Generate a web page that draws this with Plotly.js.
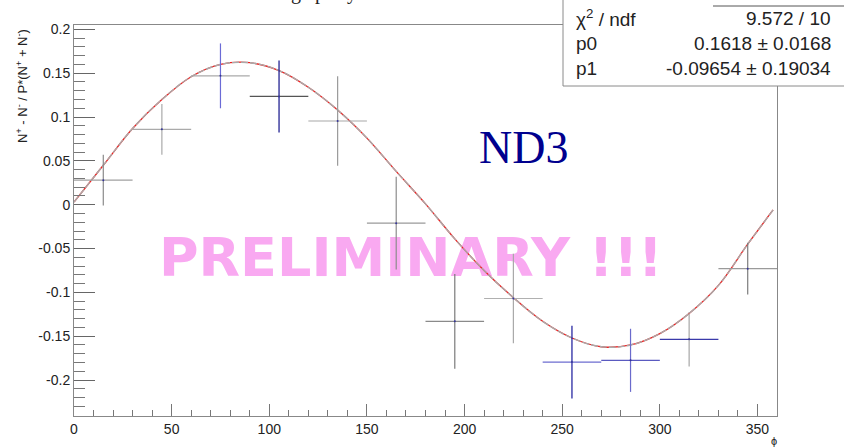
<!DOCTYPE html>
<html>
<head>
<meta charset="utf-8">
<script src="https://cdn.plot.ly/plotly-3.0.1.min.js"></script>
<style>html,body{margin:0;padding:0;background:#fff;}#chart{width:844px;height:447px;}</style>
</head>
<body>
<div id="chart"></div>
<script>
// ---- data ----
const phi      = [15, 45, 75, 105, 135, 165, 195, 225, 255, 285, 315, 345];
const asym     = [0.028, 0.086, 0.147, 0.1235, 0.0955, -0.021, -0.133, -0.107, -0.1795, -0.1775, -0.1535, -0.073];
const asymErr  = [0.029, 0.029, 0.037, 0.041, 0.051, 0.053, 0.054, 0.051, 0.0415, 0.036, 0.031, 0.0295];
const binHalf  = [15, 15, 15, 15, 15, 15, 15, 15, 15, 15, 15, 15];

// fitted curve as drawn in the picture (sampled)
const fitPhi = [0, 15, 30, 45, 60, 75, 90, 105, 120, 135, 150, 165, 180, 195, 210, 225, 240, 255, 270, 285, 300, 315, 330, 345, 358];
const fitVal = [0.003, 0.045, 0.087, 0.120, 0.146, 0.160, 0.162, 0.153, 0.134, 0.108, 0.076, 0.038, 0.001, -0.039, -0.075, -0.106, -0.133, -0.152, -0.162, -0.160, -0.147, -0.124, -0.092, -0.045, -0.006];

const yTickVals = [-0.2, -0.15, -0.1, -0.05, 0, 0.05, 0.1, 0.15, 0.2];
const yTickText = ["-0.2", "-0.15", "-0.1", "-0.05", "0", "0.05", "0.1", "0.15", "0.2"];

const statLabels = ["χ<sup>2</sup> / ndf", "p0", "p1"];
const statValues = ["9.572 / 10", "0.1618 ± 0.0168", "-0.09654 ± 0.19034"];

// ---- styles (per point colours of the error bars) ----
const vColors = ['#8a8a8a', '#aaaaaa', '#6b6bd6', '#10108a', '#9a9a9a', '#8c8c8c', '#7a7a7a', '#a8a8a8', '#16169a', '#6a6acc', '#a6a6a6', '#7c7c7c'];
const hColors = ['#a0a0a0', '#aaaaaa', '#aaaaaa', '#555555', '#a8a8a8', '#9a9a9a', '#8a8a8a', '#b0b0b0', '#6c6cd0', '#5a5ac0', '#3a3aaa', '#9a9a9a'];

const W = 844, H = 447, L = 74, R = 67, T = 25, B = 31;
const pw = W - L - R, ph = H - T - B;
const px = x => (x - L) / pw;
const py = y => (H - B - y) / ph;

const traces = [];
// watermark text under the data
traces.push({
  type: 'scatter', mode: 'text', x: [172.5], y: [-0.066], text: ['PRELIMINARY !!!'],
  textposition: 'middle center', cliponaxis: false, hoverinfo: 'skip', showlegend: false,
  textfont: {family: 'DejaVu Sans', size: 54, color: '#f9a9f1', weight: 'bold'}
});
// fit curve: red with grey overlay
traces.push({
  type: 'scatter', mode: 'lines', x: fitPhi, y: fitVal, line: {color: '#ee2222', width: 1.3, shape: 'spline'},
  hoverinfo: 'skip', showlegend: false
});
traces.push({
  type: 'scatter', mode: 'lines', x: fitPhi, y: fitVal, line: {color: 'rgba(170,170,170,1)', width: 1.4, shape: 'spline', dash: '7px,2px'},
  hoverinfo: 'skip', showlegend: false
});
for (let i = 0; i < phi.length; i++) {
  traces.push({
    type: 'scatter', mode: 'markers', x: [phi[i]], y: [asym[i]],
    marker: {size: 2, color: '#333399'},
    error_y: {type: 'data', array: [asymErr[i]], symmetric: true, width: 0, thickness: 1.2, color: vColors[i]},
    error_x: {type: 'data', array: [binHalf[i]], symmetric: true, width: 0, thickness: 1.2, color: hColors[i]},
    showlegend: false
  });
}

const shapes = [
  {type: 'rect', xref: 'paper', yref: 'paper', x0: px(563), x1: px(860), y0: py(86), y1: py(-10),
   line: {color: '#8a8a8a', width: 1}, fillcolor: '#ffffff', layer: 'above'},
  {type: 'line', xref: 'paper', yref: 'paper', x0: px(713), x1: px(860), y0: py(6), y1: py(6),
   line: {color: '#555555', width: 1}, layer: 'above'}
];

const annotations = [];
const rowY = [18, 43, 68];
for (let i = 0; i < statLabels.length; i++) {
  annotations.push({xref: 'paper', yref: 'paper', x: px(574), y: py(rowY[i]), xanchor: 'left', yanchor: 'middle',
    text: statLabels[i], showarrow: false, font: {family: 'Liberation Sans', size: 19, color: '#222'}});
  annotations.push({xref: 'paper', yref: 'paper', x: px(833), y: py(rowY[i]), xanchor: 'right', yanchor: 'middle',
    text: statValues[i], showarrow: false, font: {family: 'Liberation Sans', size: 19, color: '#222'}});
}
annotations.push({xref: 'paper', yref: 'paper', x: px(523), y: py(147), xanchor: 'center', yanchor: 'middle',
  text: 'ND3', showarrow: false, font: {family: 'Liberation Serif', size: 46, color: '#00008e'}});
annotations.push({xref: 'paper', yref: 'paper', x: px(22), y: py(86), xanchor: 'center', yanchor: 'middle', textangle: -90,
  text: 'N<sup>+</sup> - N<sup>-</sup> / P*(N<sup>+</sup> + N<sup>-</sup>)', showarrow: false,
  font: {family: 'Liberation Sans', size: 13, color: '#222'}});
annotations.push({xref: 'paper', yref: 'paper', x: px(774), y: py(441), xanchor: 'center', yanchor: 'middle',
  text: 'ϕ', showarrow: false, font: {family: 'Liberation Sans', size: 11, color: '#222'}});
// clipped title fragments at the very top edge (only descenders visible, as in the reference)
const topFrag = ['g', 'p', 'y'];
const topFragX = [296, 320, 352];
for (let i = 0; i < topFrag.length; i++) {
  annotations.push({xref: 'paper', yref: 'paper', x: px(topFragX[i]), y: py(6), xanchor: 'center', yanchor: 'bottom',
    text: topFrag[i], showarrow: false, font: {family: 'Liberation Serif', size: 20, color: '#222'}});
}

const layout = {
  width: W, height: H,
  margin: {l: L, r: R, t: T, b: B, pad: 0},
  paper_bgcolor: '#ffffff', plot_bgcolor: '#ffffff',
  showlegend: false,
  xaxis: {
    range: [0, 360], tickmode: 'linear', tick0: 0, dtick: 50,
    ticks: 'inside', ticklen: 12, tickwidth: 1, tickcolor: '#777',
    minor: {ticks: 'inside', ticklen: 6, dtick: 10, tick0: 0, tickcolor: '#777', showgrid: false},
    showgrid: false, zeroline: false, showline: true, linecolor: '#888', linewidth: 1, mirror: true,
    tickfont: {family: 'Liberation Sans', size: 14, color: '#222'}
  },
  yaxis: {
    range: [-0.241, 0.205], tickmode: 'array', tickvals: yTickVals, ticktext: yTickText,
    ticks: 'inside', ticklen: 21, tickwidth: 1, tickcolor: '#666',
    minor: {ticks: 'inside', ticklen: 11, dtick: 0.01, tick0: 0, tickcolor: '#777', showgrid: false},
    showgrid: false, zeroline: false, showline: true, linecolor: '#888', linewidth: 1, mirror: true,
    tickfont: {family: 'Liberation Sans', size: 14, color: '#222'}
  },
  shapes: shapes,
  annotations: annotations
};

Plotly.newPlot('chart', traces, layout, {displayModeBar: false, staticPlot: true});
</script>
</body>
</html>
